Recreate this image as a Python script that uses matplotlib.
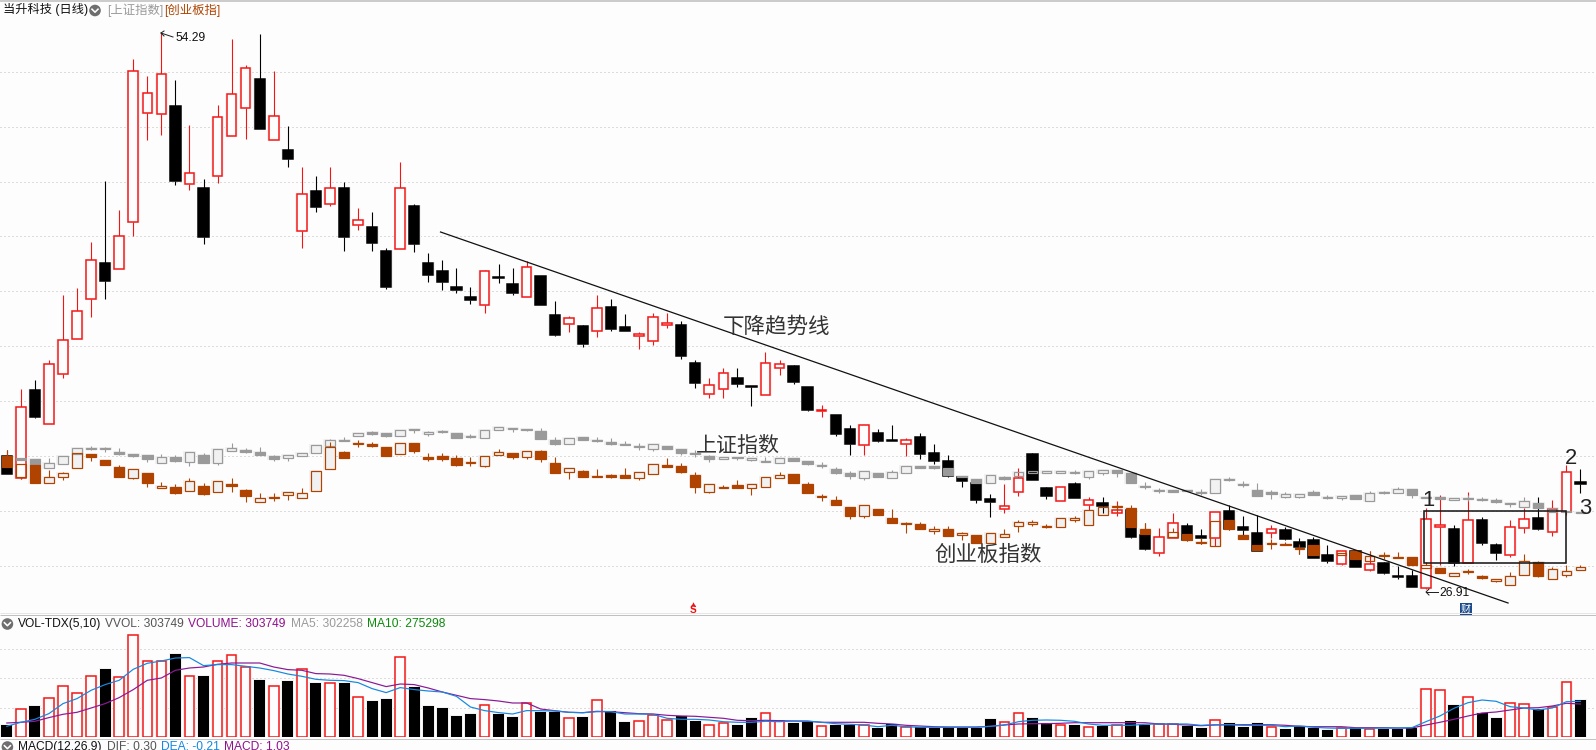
import numpy as np
import matplotlib
matplotlib.use("Agg")
import matplotlib.pyplot as plt
from matplotlib.patches import Circle, Rectangle

plt.rcParams['font.family'] = ['Liberation Sans', 'Noto Sans CJK SC', 'DejaVu Sans']
nan = float('nan')

# Chart levels (main panel shares one normalised level scale)
stock_open = [144,122,210,176,226,261,301,337,331,378,
 487,486,494,416,412,424,464,492,521,460,
 450,369,409,396,412,375,373,349,351,394,
 337,329,313,303,295,323,316,303,324,285,
 276,274,269,293,273,264,259,275,275,237,
 206,211,222,214,205,232,234,213,189,185,
 171,155,167,160,156,163,147,139,123,117,
 101,91,108,146,112,99,116,95,97,87,
 90,65,47,62,74,64,62,89,73,67,
 67,70,58,60,45,36,49,30,37,24,
 24,12,73,71,37,80,55,45,72,82,
 68,88,118]
stock_close = [126,193,183,236,260,289,340,319,364,529,
 507,526,419,427,363,483,506,532,471,484,
 441,406,393,412,363,380,357,313,412,356,
 325,318,310,300,329,322,307,333,295,265,
 282,256,292,271,269,266,283,277,244,217,
 215,227,216,213,237,236,218,190,190,166,
 156,175,159,159,160,146,139,124,119,100,
 98,94,122,120,104,113,102,100,94,90,
 63,51,63,77,60,62,88,71,70,49,
 71,61,53,42,39,49,33,36,27,23,
 13,81,75,37,80,57,47,73,81,71,
 91,128,116]
stock_high = [150,211,220,240,305,312,358,419,390,541,
 524,568,520,475,421,495,561,535,566,529,
 474,433,424,433,418,392,388,352,438,396,
 347,340,332,313,330,336,332,339,324,299,
 284,275,305,301,286,268,287,287,279,240,
 222,232,232,214,248,240,235,213,195,185,
 175,175,171,175,162,167,156,145,124,121,
 106,116,132,147,113,113,118,103,103,99,
 90,77,72,87,77,71,88,95,84,85,
 75,73,62,63,55,49,49,49,38,34,
 30,92,105,75,108,83,57,80,92,103,
 100,135,131]
stock_low = [126,121,182,176,222,261,283,301,331,364,
 460,465,415,410,356,417,464,461,471,460,
 433,352,388,394,349,370,349,311,351,348,
 318,310,307,296,287,317,305,303,295,264,
 268,253,263,269,269,251,255,272,241,212,
 202,202,213,194,205,225,216,189,183,164,
 145,145,158,159,144,141,136,123,113,97,
 83,87,104,120,101,99,102,90,87,84,
 62,50,44,62,59,56,54,70,61,49,
 62,60,46,42,37,35,33,29,26,21,
 13,11,35,34,37,55,40,43,67,70,
 64,85,107]

sh_open = [nan,142,141,132,136,146,151,151,148,146,
 145,137,143,138,145,137,149,150,148,144,
 142,144,147,154,159,164,168,167,164,170,
 166,168,167,163,162,170,171,171,169,160,
 156,163,160,158,155,153,151,154,151,146,
 144,141,143,140,138,137,142,139,134,131,
 127,122,127,122,127,134,134,132,124,121,
 117,123,124,127,127,127,127,123,127,130,
 127,113,109,110,110,107,107,120,115,110,
 108,103,103,108,102,102,105,99,107,107,
 111,102,103,100,101,100,100,96,93,97,
 88,88,87]
sh_close = [nan,140,135,137,144,152,152,152,146,144,
 141,143,139,148,137,151,152,148,145,141,
 145,147,155,160,160,167,166,164,170,171,
 168,169,162,164,170,173,172,170,161,156,
 162,160,159,156,156,154,156,151,147,147,
 141,143,142,142,139,142,139,136,135,127,
 124,129,123,128,134,132,132,125,123,117,
 125,121,128,129,129,129,128,129,130,127,
 117,114,110,108,109,108,121,121,116,104,
 106,106,106,105,103,104,101,107,108,111,
 105,103,101,102,102,101,98,97,99,92,
 92,89,88]
sh_high = [nan,142,141,142,144,152,154,153,152,146,
 145,146,145,148,147,151,157,152,153,145,
 145,147,155,161,163,167,169,167,170,171,
 169,170,167,166,170,173,172,171,172,163,
 162,163,163,162,159,157,156,154,151,150,
 145,143,143,142,143,142,142,139,138,133,
 129,129,127,130,134,134,134,132,124,121,
 125,124,128,129,129,129,130,129,130,130,
 127,118,112,110,110,111,121,123,119,117,
 110,108,106,110,105,104,105,109,109,113,
 111,103,103,102,105,103,102,97,103,97,
 92,89,88]
sh_low = [nan,140,135,132,136,146,150,148,145,143,
 138,137,138,134,137,135,149,147,145,139,
 139,144,147,154,159,164,165,163,164,167,
 164,167,162,162,162,170,168,169,161,155,
 156,160,158,155,155,150,149,151,145,143,
 138,141,140,139,138,137,139,135,132,126,
 121,120,123,122,127,132,131,125,123,117,
 117,120,124,127,127,127,126,121,125,123,
 117,111,107,108,109,105,107,119,113,104,
 101,102,102,105,101,100,101,99,106,107,
 102,102,101,100,99,99,97,93,93,92,
 88,88,87]

cy_open = [144,123,135,117,123,132,146,140,133,122,
 127,112,113,109,114,108,116,110,98,102,
 105,102,109,131,148,156,156,153,146,157,
 143,144,142,137,134,145,147,143,149,137,
 128,129,123,125,125,122,126,135,134,125,
 108,112,115,112,113,122,126,116,103,100,
 93,84,91,82,76,76,69,71,65,65,
 57,63,74,76,73,73,80,75,85,93,
 92,71,nan,63,66,57,54,80,65,55,
 56,56,51,55,nan,45,49,39,44,42,
 43,32,32,24,28,24,19,15,25,38,
 21,25,30]
cy_close = [133,136,117,123,127,147,143,135,123,131,
 117,114,107,119,106,119,114,104,102,103,
 108,107,129,153,142,157,154,144,157,149,
 141,141,135,138,144,148,143,149,141,127,
 132,123,124,123,122,128,136,133,128,113,
 116,113,112,116,123,125,117,107,104,95,
 84,95,85,77,77,71,71,64,67,57,
 67,66,78,78,74,82,82,90,93,94,
 73,66,nan,68,60,58,79,71,61,50,
 57,55,52,45,nan,47,41,44,45,43,
 35,35,27,27,29,22,21,24,39,24,
 31,29,33]
cy_high = [150,136,135,130,128,147,146,140,135,131,
 127,118,116,122,117,119,122,111,107,107,
 108,112,129,158,149,160,158,153,157,157,
 147,147,145,143,144,151,147,149,150,143,
 132,130,131,126,132,128,136,142,137,128,
 116,115,120,116,123,128,126,118,106,104,
 93,95,91,91,78,78,74,74,68,65,
 67,71,80,80,76,82,84,90,93,96,
 95,77,nan,72,66,62,79,80,65,55,
 61,58,56,55,nan,47,49,49,48,48,
 43,38,32,27,31,25,21,28,46,39,
 33,35,35]
cy_low = [133,121,117,117,120,132,139,135,123,121,
 113,112,106,109,105,108,108,98,98,99,
 100,102,109,131,142,153,153,144,146,147,
 139,139,134,134,133,145,141,141,138,127,
 121,123,123,122,122,120,126,133,127,107,
 107,112,112,105,113,122,117,107,99,95,
 81,82,85,77,67,71,66,64,60,57,
 57,63,68,74,72,73,78,75,85,87,
 73,66,nan,63,60,56,54,71,61,50,
 51,55,46,45,nan,45,41,39,41,42,
 35,32,27,24,26,21,18,15,25,23,
 21,23,30]

volume = [12,28,31,39,51,44,61,68,60,102,
 76,76,83,61,61,76,82,70,57,51,
 56,68,54,54,54,40,36,38,80,50,
 31,29,21,23,32,23,20,34,25,25,
 19,20,37,26,15,16,22,17,21,16,
 12,14,12,19,24,16,14,15,11,12,
 12,12,9,13,10,10,9,10,9,9,
 18,15,24,19,14,12,12,10,11,12,
 16,12,13,13,11,9,17,14,10,14,
 10,8,11,9,7,9,9,8,8,8,
 9,48,47,32,40,24,19,34,33,28,
 30,55,37]
vol_up = [0,1,0,1,1,1,1,0,1,1,
 1,1,0,1,0,1,1,1,0,1,
 0,1,0,1,0,1,0,0,1,0,
 0,0,0,0,1,0,0,1,0,0,
 1,0,1,0,0,1,1,1,0,0,
 1,1,0,0,1,1,0,0,1,0,
 0,1,0,0,1,0,0,0,0,0,
 0,1,1,0,0,1,0,1,0,1,
 0,0,1,1,0,0,1,0,0,0,
 1,0,0,0,0,1,0,1,0,0,
 0,1,1,0,1,0,0,1,1,0,
 1,1,0]
ma5 = [10.7,14.7,17.7,23.4,33.4,38.4,46.7,52.4,56.7,67.7,
 73.7,76,79,79.4,71.4,72.4,72.4,70.7,69,66.4,
 63,60.7,57.7,56.7,56.4,54.4,48.4,44.4,49.4,47.4,
 46,45,40.7,30,26.4,24.4,23,26.4,26.3,26,
 24.7,24.3,25.3,25.3,23,23,22.7,18.7,17.7,17.7,
 17,15.3,14.7,14.7,15.7,15.3,16,16,14.7,13.3,
 12.7,12,10.3,11.7,10.3,9.7,9.7,9.7,9.7,9.7,
 10.7,12,15.3,16.7,17,16.7,15.7,13,11.7,11.7,
 11.7,12.7,13,13,13,11.7,12.3,12.3,11.7,11.7,
 11.7,10.3,11,9.7,9,8.7,8.7,8.7,9,9,
 9.3,15.3,21,28.7,34.3,37,35.7,30.3,29,27,
 29,35.3,35.7]
ma10 = [14,14.7,15.7,19.4,22.7,24.7,29,33.4,39.4,47.4,
 56.7,59,66.7,69,70,72.7,74,74,74,70,
 67.4,66.7,63.4,63,61.7,58.4,54.4,50.4,53,52.4,
 49,45,41.7,38.4,37.4,36,34,34,28,26.3,
 24.7,24.3,25.7,25.3,24.3,23.3,23,21.7,21,20.7,
 19.7,18.7,16.7,16.3,16.7,16.3,16,15.7,14.7,14.7,
 14.7,14.7,13.7,13,11.7,11,10.3,10,10,10,
 10.7,12,13,13.3,13.3,13.7,14.3,14.3,14.3,14.3,
 14.3,14.3,13,12.7,12,11.3,12,12.3,12.3,12.3,
 12.3,11.7,10.7,10.3,10.3,10.3,9.3,9.3,9.3,9,
 9,12,14.7,17.7,21,24,25,27,29,29.3,
 31,33.7,33]

trend_x = [30.87, 106.85]
trend_y = [368, -3]
box_x = [100.9, 110.95]
box_y = [37, 89.5]
grid_levels = [527.7, 472.7, 418.3, 363.7, 308.7, 253.7, 198.7, 143.7, 88.7, 33.7]
vol_grid = [29.4, 59, 88.4]

BG = '#fdfdfd'
HALO = '#f1f1f1'
RED = '#f51414'
BLACK = '#000000'
GREY = '#9a9a9a'
BROWN = '#b04300'

W, H = 1596, 750
fig = plt.figure(figsize=(W / 100, H / 100), dpi=100, facecolor=BG)
PX = 72 / 100  # one pixel in points
SLOT = 14.05
XLIM = (-6.8 / SLOT, (W - 6.8) / SLOT)

def panel(y_top, y_bot):
    ax = fig.add_axes([0, 1 - y_bot / H, 1, (y_bot - y_top) / H])
    ax.set_facecolor('none')
    ax.set_xlim(*XLIM)
    for s in ax.spines.values():
        s.set_visible(False)
    ax.set_xticks([])
    ax.tick_params(left=False, labelleft=False)
    ax.grid(axis='y', color='#bcbcbc', lw=PX, ls=(0, (1, 3)), zorder=1)
    ax.set_axisbelow(True)
    return ax

main = panel(15, 612)
main.set_ylim(-12, 585)
main.set_yticks(grid_levels)

def candles(ax, o, h, l, c, up_color, dn_color, up_face, z, edge):
    o, h, l, c = map(lambda a: np.array(a, float), (o, h, l, c))
    x = np.arange(len(o))
    ok = ~np.isnan(o)
    up = (c >= o) & ok
    dn = (c < o) & ok
    tops, bots = np.maximum(o, c), np.minimum(o, c)
    ax.bar(x[ok], (tops - bots)[ok] + 2, bottom=bots[ok] - 1, width=13 / SLOT,
           color=HALO, linewidth=0, zorder=2)
    for mask, col, face, wid in ((up, up_color, up_face, 9.6), (dn, dn_color, dn_color, 10.4)):
        ax.vlines(x[mask], tops[mask], h[mask], color=col, lw=PX * 1.1, zorder=z, snap=True)
        ax.vlines(x[mask], l[mask], bots[mask], color=col, lw=PX * 1.1, zorder=z, snap=True)
        ax.bar(x[mask], (tops - bots)[mask], bottom=bots[mask], width=wid / SLOT,
               facecolor=face, edgecolor=col, linewidth=PX * edge, zorder=z)

candles(main, stock_open, stock_high, stock_low, stock_close, RED, BLACK, BG, 3, 1.5)
candles(main, sh_open, sh_high, sh_low, sh_close, GREY, GREY, 'none', 4, 1.2)
candles(main, cy_open, cy_high, cy_low, cy_close, BROWN, BROWN, 'none', 5, 1.2)

main.plot(trend_x, trend_y, color='#111111', lw=PX * 1.25, zorder=6, clip_on=False)
main.add_patch(Rectangle((box_x[0], box_y[0]), box_x[1] - box_x[0], box_y[1] - box_y[0],
                         fill=False, ec='#1a1a1a', lw=PX * 1.6, zorder=6))

vol = panel(616, 737)
vol.set_ylim(0, 121)
vol.set_yticks(vol_grid)
xs = np.arange(len(volume))
v = np.array(volume, float)
u = np.array(vol_up, bool)
vol.bar(xs, v + 1, width=13 / SLOT, color=HALO, linewidth=0, zorder=2)
vol.bar(xs[u], v[u], width=9.6 / SLOT, facecolor=BG, edgecolor=RED, linewidth=PX * 1.5, zorder=3)
vol.bar(xs[~u], v[~u], width=11 / SLOT, facecolor=BLACK, edgecolor=BLACK, linewidth=0, zorder=3)
vol.plot(xs, ma10, color='#8a1a96', lw=PX * 1.2, zorder=4)
vol.plot(xs, ma5, color='#1688e0', lw=PX * 1.2, zorder=5)

# Pixel overlay for furniture and labels
ov = fig.add_axes([0, 0, 1, 1], zorder=20)
ov.set_xlim(0, W)
ov.set_ylim(H, 0)
ov.axis('off')
ov.patch.set_alpha(0)

for y, col, lw in ((0.7, '#bdbdbd', 1.5), (612.5, '#e6e6e6', 1), (615, '#c0c0c0', 1), (738.7, '#c4c4c4', 1)):
    ov.plot([0, W], [y, y], color=col, lw=PX * lw, solid_capstyle='butt')

def T(x, y, s, color='#111111', size=12, **kw):
    ov.text(x, y, s, color=color, fontsize=size * PX, va='center', ha=kw.pop('ha', 'left'), **kw)

def chevron(cx, cy):
    ov.add_patch(Circle((cx, cy), 5.8, fc='#6e6e6e', ec='none'))
    ov.plot([cx - 3, cx, cx + 3], [cy - 1.3, cy + 1.7, cy - 1.3], color='white', lw=PX * 1.6)

T(3, 10, '当升科技 (日线)', '#111111', 12.2)
chevron(95, 10.5)
T(107, 10, '[上证指数]', '#9a9a9a', 12.4)
T(164, 10, '[创业板指]', BROWN, 12.4)

T(175, 38, '54.29', '#111111', 12)
ov.plot([161, 173], [33, 37], color='#222222', lw=PX)
ov.plot([164, 161, 164], [31, 33, 36], color='#222222', lw=PX)
T(1439, 593, '26.91', '#111111', 12)
ov.plot([1426, 1438], [592, 592], color='#222222', lw=PX)
ov.plot([1429, 1426, 1429], [589, 592, 595], color='#222222', lw=PX)

T(723, 326, '下降趋势线', '#333333', 21.5)
T(696, 445.5, '上证指数', '#333333', 21)
T(934, 554.5, '创业板指数', '#333333', 21.5)
T(1429, 501, '1', '#222222', 22, ha='center')
T(1571, 458, '2', '#222222', 22, ha='center')
T(1585, 508, '3', '#222222', 22, ha='center')

# Event marks on the bottom of the main panel
ov.text(692.7, 610, 'S', color='#ee1111', fontsize=10 * PX, fontweight='bold', ha='center', va='center')
ov.plot([692.7], [604], marker='^', ms=3.2, color='#ee1111', mew=0)
ov.add_patch(Rectangle((1460, 603), 12, 12, fc='#1b4b8c', ec='none'))
ov.text(1466, 608.7, '财', color='white', fontsize=10 * PX, ha='center', va='center')

chevron(7.4, 624)
T(17.5, 624, 'VOL-TDX(5,10)', '#111111', 12)
T(105, 624, 'VVOL: 303749', '#555555', 12)
T(188, 624, 'VOLUME: 303749', '#90108e', 12)
T(291, 624, 'MA5: 302258', '#9a9a9a', 12)
T(367, 624, 'MA10: 275298', '#0d8a0d', 12)

chevron(7.4, 747)
T(18, 747, 'MACD(12,26,9)', '#111111', 12)
T(107, 747, 'DIF: 0.30', '#555555', 12)
T(160.6, 747, 'DEA: -0.21', '#1688e0', 12)
T(224, 747, 'MACD: 1.03', '#90108e', 12)

fig.savefig('out.png', dpi=100, facecolor=BG)
